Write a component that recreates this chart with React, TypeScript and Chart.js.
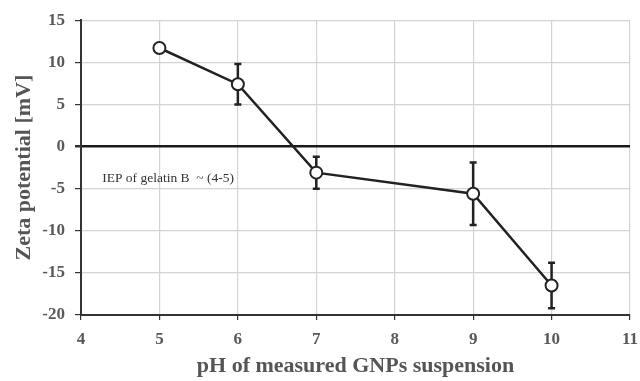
import React, { useEffect, useRef } from "react";
import { Chart, registerables } from "chart.js";

Chart.register(...registerables);

const phValues = [5, 6, 7, 9, 10];
const zetaValues = [11.7, 7.4, -3.1, -5.6, -16.5];
const zetaErrors = [0, 2.4, 1.9, 3.7, 2.7];
const xTicks = [4, 5, 6, 7, 8, 9, 10, 11];
const yTicks = [-20, -15, -10, -5, 0, 5, 10, 15];
const noteText = "IEP of gelatin B  ~ (4-5)";
const notePos = { x: 4.27, y: -3.8 };

const SERIF = "'Liberation Serif', 'Times New Roman', serif";

const errorBarPlugin = {
  id: "errorBars",
  beforeDatasetsDraw(chart: any) {
    const { ctx, scales } = chart;
    const xs = scales.x;
    const ys = scales.y;
    ctx.save();
    ctx.strokeStyle = "#222";
    ctx.lineWidth = 2.5;
    phValues.forEach((ph, i) => {
      const e = zetaErrors[i];
      if (!e) return;
      const px = xs.getPixelForValue(ph);
      const top = ys.getPixelForValue(zetaValues[i] + e);
      const bot = ys.getPixelForValue(zetaValues[i] - e);
      const cap = 3.5;
      ctx.beginPath();
      ctx.moveTo(px, top);
      ctx.lineTo(px, bot);
      ctx.moveTo(px - cap, top);
      ctx.lineTo(px + cap, top);
      ctx.moveTo(px - cap, bot);
      ctx.lineTo(px + cap, bot);
      ctx.stroke();
    });
    ctx.restore();
  },
  afterDatasetsDraw(chart: any) {
    const { ctx, scales } = chart;
    ctx.save();
    ctx.fillStyle = "#333";
    ctx.font = "13.5px " + SERIF;
    ctx.textAlign = "left";
    ctx.textBaseline = "middle";
    ctx.fillText(noteText, scales.x.getPixelForValue(notePos.x), scales.y.getPixelForValue(notePos.y));
    ctx.restore();
  },
};

export default function App() {
  const ref = useRef<HTMLCanvasElement>(null);
  useEffect(() => {
    if (!ref.current) return;
    const tickFont = { family: SERIF, size: 17, weight: "bold" as const };
    const titleFont = { family: SERIF, size: 22, weight: "bold" as const };
    const chart = new Chart(ref.current, {
      type: "line",
      data: {
        datasets: [
          {
            data: phValues.map((x, i) => ({ x, y: zetaValues[i] })),
            borderColor: "#222",
            borderWidth: 2.5,
            pointRadius: 6,
            pointBorderWidth: 2,
            pointBackgroundColor: "#fff",
            pointBorderColor: "#222",
            tension: 0,
          },
        ],
      },
      options: {
        animation: false,
        responsive: false,
        maintainAspectRatio: false,
        layout: { padding: { top: 9, right: 0, left: 0, bottom: 0 } },
        plugins: { legend: { display: false }, tooltip: { enabled: false } },
        scales: {
          x: {
            type: "linear",
            min: 4,
            max: 11,
            afterBuildTicks: (s: any) => {
              s.ticks = xTicks.map((v) => ({ value: v }));
            },
            afterFit: (s: any) => {
              s.height = 66;
              s.paddingRight = 10;
            },
            ticks: { font: tickFont, color: "#595959", padding: 9 },
            grid: { color: "#d3d3d3", lineWidth: 1.2, tickColor: "#333", tickLength: 5 },
            border: { color: "#333", width: 2 },
            title: { display: true, text: "pH of measured GNPs suspension", font: titleFont, color: "#555", padding: { top: 4, bottom: 1 } },
          },
          y: {
            type: "linear",
            min: -20,
            max: 15,
            afterBuildTicks: (s: any) => {
              s.ticks = yTicks.map((v) => ({ value: v }));
            },
            afterFit: (s: any) => {
              s.width = 81;
            },
            ticks: { font: tickFont, color: "#595959", padding: 10 },
            grid: {
              color: (c: any) => (c.tick && c.tick.value === 0 ? "#1a1a1a" : "#d3d3d3"),
              lineWidth: (c: any) => (c.tick && c.tick.value === 0 ? 2.5 : 1.2),
              tickColor: "#333",
              tickLength: 6,
            },
            border: { color: "#333", width: 2 },
            title: { display: true, text: "Zeta potential [mV]", font: titleFont, color: "#555", padding: { top: 11, bottom: 4 } },
          },
        },
      },
      plugins: [errorBarPlugin],
    });
    return () => chart.destroy();
  }, []);
  return (
    <div style={{ position: "fixed", left: 0, top: 0, width: 640, height: 381, background: "#fff" }}>
      <canvas ref={ref} width={640} height={381} style={{ width: 640, height: 381 }} />
    </div>
  );
}
